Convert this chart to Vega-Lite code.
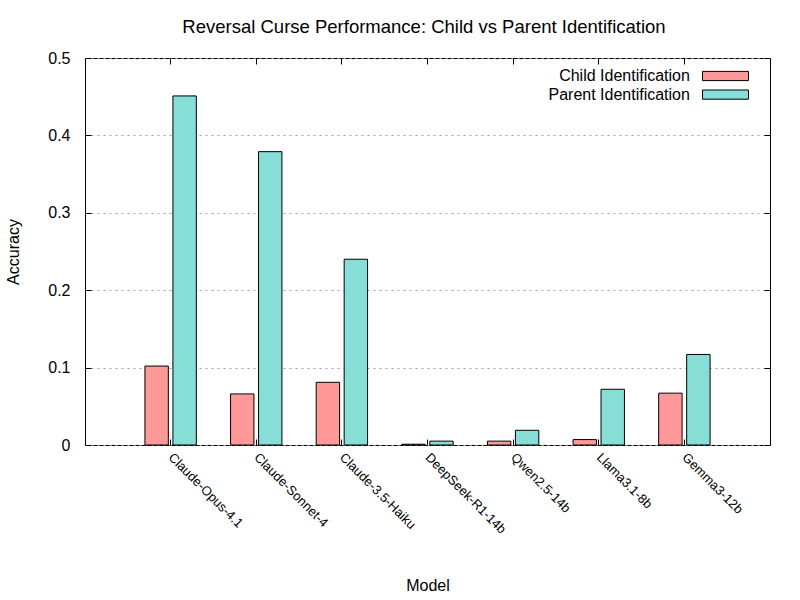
{
  "$schema": "https://vega.github.io/schema/vega-lite/v6.json",
  "width": 685,
  "height": 387,
  "autosize": {"type": "none"},
  "padding": {"left": 85, "top": 58, "right": 30, "bottom": 155},
  "title": {
    "text": "Reversal Curse Performance: Child vs Parent Identification",
    "fontSize": 18.5,
    "fontWeight": "normal",
    "font": "Liberation Sans",
    "color": "black",
    "offset": -20,
    "dx": -3.5
  },
  "data": {
    "values": [
      {"model": "Claude-Opus-4.1", "series": "Child Identification", "accuracy": 0.102},
      {"model": "Claude-Opus-4.1", "series": "Parent Identification", "accuracy": 0.451},
      {"model": "Claude-Sonnet-4", "series": "Child Identification", "accuracy": 0.066},
      {"model": "Claude-Sonnet-4", "series": "Parent Identification", "accuracy": 0.379},
      {"model": "Claude-3.5-Haiku", "series": "Child Identification", "accuracy": 0.081},
      {"model": "Claude-3.5-Haiku", "series": "Parent Identification", "accuracy": 0.240},
      {"model": "DeepSeek-R1-14b", "series": "Child Identification", "accuracy": 0.001},
      {"model": "DeepSeek-R1-14b", "series": "Parent Identification", "accuracy": 0.005},
      {"model": "Qwen2.5-14b", "series": "Child Identification", "accuracy": 0.005},
      {"model": "Qwen2.5-14b", "series": "Parent Identification", "accuracy": 0.019},
      {"model": "Llama3.1-8b", "series": "Child Identification", "accuracy": 0.007},
      {"model": "Llama3.1-8b", "series": "Parent Identification", "accuracy": 0.072},
      {"model": "Gemma3-12b", "series": "Child Identification", "accuracy": 0.067},
      {"model": "Gemma3-12b", "series": "Parent Identification", "accuracy": 0.117}
    ]
  },
  "layer": [
    {
      "mark": {"type": "bar", "stroke": "black", "strokeWidth": 1},
      "encoding": {
        "x": {
          "field": "model",
          "type": "nominal",
          "sort": null,
          "scale": {"paddingInner": 0.4, "paddingOuter": 0.7},
          "axis": {
            "title": "Model",
            "titleFontSize": 16,
            "titleFontWeight": "normal",
            "titleColor": "black",
            "titlePadding": 41,
            "labelAngle": 45,
            "labelAlign": "left",
            "labelBaseline": "middle",
            "labelFontSize": 13,
            "labelColor": "black",
            "labelPadding": 16,
            "tickSize": -6,
            "tickColor": "black",
            "domain": false,
            "grid": false
          }
        },
        "xOffset": {
          "field": "series",
          "type": "nominal",
          "scale": {"paddingInner": 0.164, "paddingOuter": 0}
        },
        "y": {
          "field": "accuracy",
          "type": "quantitative",
          "scale": {"domain": [0, 0.5], "nice": false, "zero": true},
          "axis": {
            "title": "Accuracy",
            "titleFontSize": 16,
            "titleFontWeight": "normal",
            "titleColor": "black",
            "titlePadding": 26,
            "values": [0, 0.1, 0.2, 0.3, 0.4, 0.5],
            "format": "~g",
            "labelFontSize": 16,
            "labelColor": "black",
            "labelPadding": 21,
            "tickSize": -6,
            "tickColor": "black",
            "domain": false,
            "grid": true,
            "gridColor": "#a0a0a0",
            "gridDash": [2, 4],
            "gridWidth": 1
          }
        },
        "color": {
          "field": "series",
          "type": "nominal",
          "scale": {
            "domain": ["Child Identification", "Parent Identification"],
            "range": ["#FF9999", "#86DED6"]
          },
          "legend": {
            "title": null,
            "orient": "none",
            "legendX": 632.5,
            "legendY": 10,
            "symbolType": "M-5,-1H5V1H-5Z",
            "symbolSize": 84.6,
            "symbolStrokeColor": "black",
            "symbolStrokeWidth": 1,
            "symbolOpacity": 1,
            "labelAlign": "right",
            "labelOffset": -43.6,
            "labelFontSize": 16,
            "labelColor": "black",
            "labelLimit": 300,
            "rowPadding": 2.6,
            "padding": 0
          }
        }
      }
    },
    {
      "mark": {"type": "bar", "opacity": 0},
      "encoding": {
        "x": {
          "field": "model",
          "type": "nominal",
          "sort": null,
          "axis": {
            "orient": "top",
            "title": null,
            "labels": false,
            "tickSize": -6,
            "tickColor": "black",
            "domain": false,
            "grid": false,
            "minExtent": 0,
            "maxExtent": 0
          }
        },
        "y": {
          "field": "accuracy",
          "type": "quantitative",
          "axis": {
            "orient": "right",
            "title": null,
            "values": [0, 0.1, 0.2, 0.3, 0.4, 0.5],
            "labels": false,
            "tickSize": -6,
            "tickColor": "black",
            "domain": false,
            "grid": false,
            "minExtent": 0,
            "maxExtent": 0
          }
        }
      }
    }
  ],
  "resolve": {"axis": {"x": "independent", "y": "independent"}},
  "config": {
    "font": "Liberation Sans",
    "view": {"stroke": "black", "strokeWidth": 1}
  }
}
